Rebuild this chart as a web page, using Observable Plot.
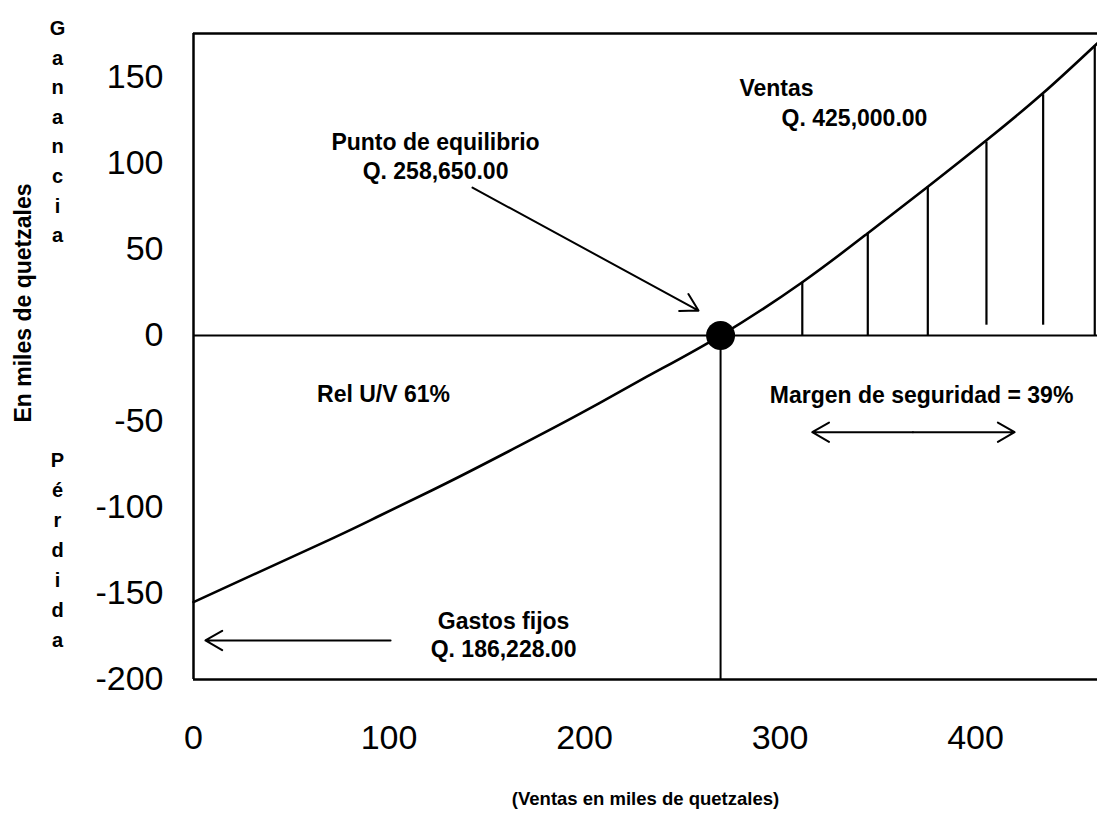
<!DOCTYPE html>
<html><head><meta charset="utf-8">
<script src="https://cdn.jsdelivr.net/npm/d3@7"></script>
<script src="https://cdn.jsdelivr.net/npm/@observablehq/plot@0.6"></script>
<style>html,body{margin:0;padding:0;background:#fff;} svg{display:block}</style>
</head><body><div id="chart"></div>
<script>
// Profit curve (sales in thousands of quetzales vs profit/loss)
const ventas   = [0, 70, 95.7, 129.8, 163.8, 198, 232.1, 269.6, 311.4, 344.9, 375.6, 405.6, 434.6, 462.4];
const ganancia = [-155, -118.5, -104.5, -85.6, -65.8, -45.3, -23.8, 0, 31, 59.5, 86.5, 113.5, 141, 170];
const equilibrio = 269.6;
// Hatch lines (margin of safety)
const hatchX      = [311.4, 344.9, 375.6, 405.6, 434.6, 461];
const hatchBottom = [0, 0, 0, 6, 6, 0];
const hatchTop    = [31, 59.5, 86.5, 112.5, 140, 168.5];
// Axes
const xTicks = [0, 100, 200, 300, 400];
const yTicks = [-200, -150, -100, -50, 0, 50, 100, 150];
const xDomain = [0, 462.4];
const yDomain = [-200, 175.6];
// Annotations
const annText = ["Punto de equilibrio\nQ. 258,650.00", "Ventas", "Q. 425,000.00", "Rel U/V 61%", "Margen de seguridad = 39%", "Gastos fijos\nQ. 186,228.00"];
const annX = [123.8, 298.2, 338.1, 97.2, 372.4, 158.6];
const annY = [104.7, 144.8, 127.3, -33.1, -33.7, -173.5];
// Arrows
const arrX1 = [142.7, 368, 368, 100.8];
const arrY1 = [86, -56.2, -56.2, -177.3];
const arrX2 = [258.3, 316.5, 420, 6.1];
const arrY2 = [14.5, -56.2, -56.2, -177.3];
// Axis titles
const yTitle = "En miles de quetzales";
const xTitle = "(Ventas en miles de quetzales)";
const gananciaLetters = "Ganancia";
const perdidaLetters = "Pérdida";

const curve = ventas.map((x, i) => ({x, y: ganancia[i]}));
const hatch = hatchX.map((x, i) => ({x, y1: hatchBottom[i], y2: hatchTop[i]}));
const ann = annText.map((t, i) => ({t, x: annX[i], y: annY[i]}));
const arrows = arrX1.map((x1, i) => ({x1, y1: arrY1[i], x2: arrX2[i], y2: arrY2[i]}));

const font = "'Liberation Sans', Arial, Helvetica, sans-serif";

const chart = Plot.plot({
  width: 1097,
  height: 836,
  marginTop: 33,
  marginBottom: 157,
  marginLeft: 193,
  marginRight: 0,
  x: {domain: xDomain},
  y: {domain: yDomain},
  style: {fontFamily: font, color: "black", background: "white"},
  marks: [
    Plot.axisX(xTicks, {tickSize: 0, tickPadding: 45, fontSize: 34, label: null, tickFormat: d => String(d)}),
    Plot.axisY(yTicks, {tickSize: 0, tickPadding: 30, fontSize: 34, label: null, tickFormat: d => String(d)}),
    Plot.ruleY(yDomain, {stroke: "black", strokeWidth: 2.5}),
    Plot.ruleX([0], {stroke: "black", strokeWidth: 2.5}),
    Plot.ruleY([0], {stroke: "black", strokeWidth: 2}),
    Plot.ruleX([equilibrio], {y1: yDomain[0], y2: 0, stroke: "black", strokeWidth: 2}),
    Plot.ruleX(hatch, {x: "x", y1: "y1", y2: "y2", stroke: "black", strokeWidth: 2.2}),
    Plot.line(curve, {x: "x", y: "y", curve: "natural", stroke: "black", strokeWidth: 2.6}),
    Plot.dot([{x: equilibrio, y: 0}], {x: "x", y: "y", r: 14.5, fill: "black", stroke: "none"}),
    Plot.arrow(arrows, {x1: "x1", y1: "y1", x2: "x2", y2: "y2", stroke: "black", strokeWidth: 2, headLength: 14.5, headAngle: 60}),
    Plot.text(ann, {x: "x", y: "y", text: "t", fontSize: 23, fontWeight: "bold", textAnchor: "middle", lineAnchor: "middle", lineHeight: 1.24, fill: "black"}),
    Plot.text([yTitle], {frameAnchor: "left", y: [18.9], text: d => d, rotate: -90, dx: -170, fontSize: 23, fontWeight: "bold", textAnchor: "middle", lineAnchor: "middle", fill: "black"}),
    Plot.text([gananciaLetters.split("").join("\n")], {frameAnchor: "left", y: [120], text: d => d, dx: -136, fontSize: 20, fontWeight: "bold", textAnchor: "middle", lineAnchor: "middle", lineHeight: 1.48, fill: "black"}),
    Plot.text([perdidaLetters.split("").join("\n")], {frameAnchor: "left", y: [-123.3], text: d => d, dx: -136, fontSize: 20, fontWeight: "bold", textAnchor: "middle", lineAnchor: "middle", lineHeight: 1.5, fill: "black"}),
    Plot.text([xTitle], {frameAnchor: "bottom", text: d => d, dy: 120, fontSize: 18.5, fontWeight: "bold", textAnchor: "middle", lineAnchor: "middle", fill: "black"})
  ]
});
document.getElementById("chart").appendChild(chart);
</script>
</body></html>
